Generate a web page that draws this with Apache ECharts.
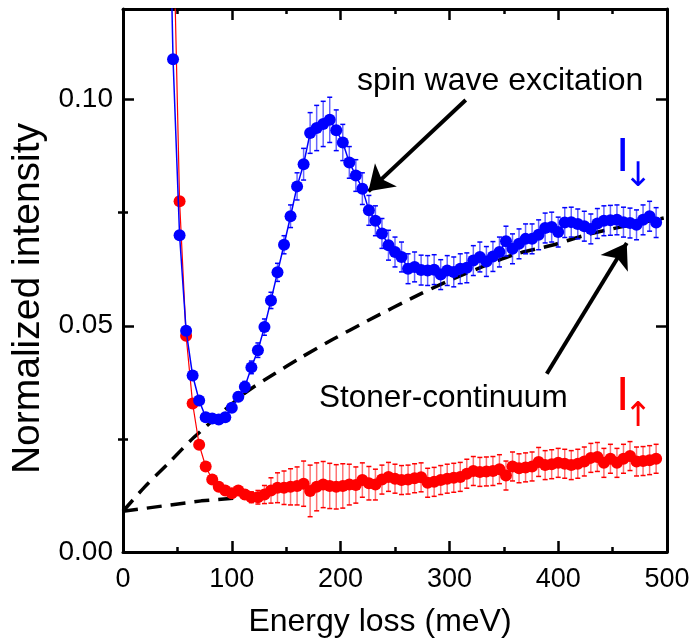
<!DOCTYPE html>
<html>
<head>
<meta charset="utf-8">
<title>Spin wave excitation</title>
<script src="https://cdn.jsdelivr.net/npm/echarts@6/dist/echarts.min.js"></script>
<style>
  html, body { margin: 0; padding: 0; background: #fff; }
  #chart { width: 697px; height: 644px; }
</style>
</head>
<body>
<div id="chart"></div>
<script>
  // energy loss (meV), same grid for both channels
  var energy = [40, 46, 52, 58, 64, 70, 76, 82, 88, 94,
    100, 106, 112, 118, 124, 130, 136, 142, 148, 154,
    160, 166, 172, 178, 184, 190, 196, 202, 208, 214,
    220, 226, 232, 238, 244, 250, 256, 262, 268, 274,
    280, 286, 292, 298, 304, 310, 316, 322, 328, 334,
    340, 346, 352, 358, 364, 370, 376, 382, 388, 394,
    400, 406, 412, 418, 424, 430, 436, 442, 448, 454,
    460, 466, 472, 478, 484, 490]

  // I down (blue)
  var iDown = [0.176, 0.1089, 0.0700, 0.0489, 0.0390, 0.0335, 0.0298, 0.0295, 0.0293, 0.0298,
    0.0319, 0.0343, 0.0365, 0.0408, 0.0446, 0.0497, 0.0556, 0.0618, 0.0679, 0.0742,
    0.0808, 0.0857, 0.0926, 0.0937, 0.0946, 0.0955, 0.0932, 0.0905, 0.0861, 0.0832,
    0.0803, 0.0755, 0.0732, 0.0704, 0.0678, 0.0663, 0.0652, 0.0626, 0.0630, 0.0623,
    0.0622, 0.0624, 0.0613, 0.0622, 0.0619, 0.0626, 0.0628, 0.0644, 0.0652, 0.0642,
    0.0653, 0.0663, 0.0687, 0.0670, 0.0681, 0.0692, 0.0692, 0.0701, 0.0716, 0.0718,
    0.0707, 0.0728, 0.0729, 0.0725, 0.0720, 0.0714, 0.0726, 0.0732, 0.0733, 0.0734,
    0.0729, 0.0727, 0.0723, 0.0734, 0.0742, 0.0728]
  var iDownErr = [0, 0.0005, 0.0005, 0.0005, 0.0005, 0.0005, 0.0005, 0.0005, 0.0005, 0.0005,
    0.0008, 0.001, 0.0012, 0.0014, 0.0016, 0.0018, 0.0018, 0.002, 0.002, 0.0025,
    0.003, 0.0035, 0.0045, 0.005, 0.005, 0.005, 0.0045, 0.004, 0.0035, 0.0035,
    0.0035, 0.0033, 0.0033, 0.0033, 0.0033, 0.0033, 0.0033, 0.0033, 0.0033, 0.0033,
    0.0033, 0.0033, 0.0033, 0.0033, 0.0033, 0.0033, 0.0033, 0.0033, 0.0033, 0.0033,
    0.0033, 0.0033, 0.0033, 0.0033, 0.0033, 0.0033, 0.0033, 0.0033, 0.0033, 0.0033,
    0.0033, 0.0033, 0.0033, 0.0033, 0.0033, 0.0033, 0.0033, 0.0033, 0.0033, 0.0033,
    0.0033, 0.0033, 0.0033, 0.0033, 0.0033, 0.0033]

  // I up (red)
  var iUp = [null, 0.142, 0.0775, 0.0478, 0.0328, 0.0237, 0.0189, 0.0160, 0.0144, 0.0136,
    0.0130, 0.0136, 0.0127, 0.0121, 0.0121, 0.0127, 0.0136, 0.0142, 0.0142, 0.0144,
    0.0146, 0.0151, 0.0135, 0.0144, 0.0149, 0.0146, 0.0144, 0.0146, 0.0149, 0.0148,
    0.0159, 0.0152, 0.0149, 0.0160, 0.0166, 0.0162, 0.0159, 0.0160, 0.0163, 0.0165,
    0.0153, 0.0155, 0.0159, 0.0162, 0.0164, 0.0166, 0.0173, 0.0179, 0.0177, 0.0178,
    0.0179, 0.0183, 0.0169, 0.0189, 0.0185, 0.0187, 0.0189, 0.0199, 0.0192, 0.0194,
    0.0197, 0.0195, 0.0192, 0.0195, 0.0200, 0.0208, 0.0210, 0.0197, 0.0206, 0.0197,
    0.0206, 0.0212, 0.0200, 0.0201, 0.0203, 0.0206]
  var iUpErr = [0, 0.0003, 0.0003, 0.0003, 0.0003, 0.0003, 0.0003, 0.0003, 0.0003, 0.0003,
    0.0006, 0.0008, 0.001, 0.0012, 0.0015, 0.002, 0.0028, 0.0033, 0.0037, 0.004,
    0.0042, 0.005, 0.0057, 0.0053, 0.0051, 0.005, 0.0049, 0.0049, 0.0045, 0.004,
    0.0038, 0.0037, 0.0034, 0.0032, 0.0032, 0.0032, 0.0032, 0.0032, 0.0032, 0.0032,
    0.0032, 0.0032, 0.0032, 0.0032, 0.0032, 0.0032, 0.0032, 0.0032, 0.0032, 0.0032,
    0.0032, 0.0032, 0.0032, 0.0032, 0.0032, 0.0032, 0.0032, 0.0032, 0.0032, 0.0032,
    0.0032, 0.0032, 0.0032, 0.0032, 0.0032, 0.0032, 0.0032, 0.0032, 0.0032, 0.0032,
    0.0032, 0.0032, 0.0032, 0.0032, 0.0032, 0.0032]

  // dashed guide lines
  var stonerE = [0, 20, 43, 65, 113, 140, 163, 193, 224, 273, 302, 331, 359, 396, 426, 457, 497]
  var stonerV = [0.009, 0.0144, 0.0199, 0.0253, 0.0353, 0.0395, 0.0429, 0.047, 0.051,
    0.057, 0.0602, 0.0631, 0.0657, 0.0679, 0.0701, 0.0718, 0.0738]
  var baseE = [0, 72, 135]
  var baseV = [0.009, 0.0113, 0.0126]

  var yTicks = [0, 0.05, 0.10]
  var yMinorTicks = [0.025, 0.075]

  var FONT = '"Liberation Sans", Arial, sans-serif'

  function pairs(xs, ys) {
    var out = []
    for (var i = 0; i < xs.length; i++) {
      if (ys[i] != null) out.push([xs[i], ys[i]])
    }
    return out
  }
  function triples(xs, ys, es) {
    var out = []
    for (var i = 0; i < xs.length; i++) {
      if (ys[i] != null) out.push([xs[i], ys[i], es[i]])
    }
    return out
  }

  function errorBars(barColor, capColor) {
    return function (params, api) {
      var x = api.value(0), y = api.value(1), e = api.value(2)
      var lo = api.coord([x, y - e])
      var hi = api.coord([x, y + e])
      var w = 2.5
      return {
        type: 'group',
        children: [
          { type: 'line', shape: { x1: lo[0], y1: lo[1], x2: hi[0], y2: hi[1] },
            style: { stroke: barColor, lineWidth: 1.5 } },
          { type: 'line', shape: { x1: hi[0] - w, y1: hi[1], x2: hi[0] + w, y2: hi[1] },
            style: { stroke: capColor, lineWidth: 1.5 } },
          { type: 'line', shape: { x1: lo[0] - w, y1: lo[1], x2: lo[0] + w, y2: lo[1] },
            style: { stroke: capColor, lineWidth: 1.5 } }
        ]
      }
    }
  }

  var axisLine = { show: true, onZero: false, lineStyle: { color: '#000', width: 3 } }
  var tickStyle = { color: '#000', width: 2.5 }

  function xAxisOf(pos) {
    return {
      type: 'value', min: 0, max: 500, interval: 100, position: pos,
      axisLine: axisLine,
      axisTick: { inside: true, length: 11, lineStyle: tickStyle },
      minorTick: { show: true, splitNumber: 2, length: 5, lineStyle: tickStyle },
      splitLine: { show: false },
      axisLabel: { show: pos === 'bottom', fontSize: 27, color: '#000', fontFamily: FONT, margin: 14 }
    }
  }
  function yAxisOf(pos, minor) {
    return {
      type: 'value', min: 0, max: 0.12, position: pos,
      axisLine: minor ? { show: false } : axisLine,
      axisTick: { inside: true, length: minor ? 5 : 11, lineStyle: tickStyle,
        customValues: minor ? yMinorTicks : yTicks },
      splitLine: { show: false },
      axisLabel: { show: pos === 'left' && !minor, customValues: yTicks,
        fontSize: 28, color: '#000', fontFamily: FONT, margin: 10,
        formatter: function (v) { return v.toFixed(2) } }
    }
  }

  var chart = echarts.init(document.getElementById('chart'))

  var xBottom = xAxisOf('bottom')
  xBottom.name = 'Energy loss (meV)'
  xBottom.nameLocation = 'middle'
  xBottom.nameGap = 54
  xBottom.nameTextStyle = { fontSize: 32, color: '#000', fontFamily: FONT, padding: [0, 30, 0, 0] }

  var yLeft = yAxisOf('left', false)
  yLeft.name = 'Normalized intensity'
  yLeft.nameLocation = 'middle'
  yLeft.nameGap = 73
  yLeft.nameTextStyle = { fontSize: 39, color: '#000', fontFamily: FONT, padding: [0, 36, 0, 0] }

  chart.setOption({
    animation: false,
    backgroundColor: '#fff',
    grid: { left: 123, right: 30, top: 9, bottom: 92 },
    xAxis: [xBottom, xAxisOf('top')],
    yAxis: [yLeft, yAxisOf('left', true), yAxisOf('right', false), yAxisOf('right', true)],
    series: [
      {
        name: 'stoner', type: 'line', data: pairs(stonerE, stonerV), smooth: 0.25,
        showSymbol: false, z: 1,
        lineStyle: { color: '#000', width: 3.5, type: [15, 9] },
        markLine: {
          silent: true, animation: false,
          symbol: ['none', 'arrow'], symbolSize: 24,
          label: { show: false },
          lineStyle: { color: '#000', width: 4, type: 'solid' },
          data: [
            [{ coord: [315, 0.0999] }, { coord: [225.6, 0.0797] }],
            [{ coord: [389.5, 0.0394] }, { coord: [463, 0.0683] }]
          ]
        }
      },
      {
        name: 'base', type: 'line', data: pairs(baseE, baseV),
        showSymbol: false, z: 1,
        lineStyle: { color: '#000', width: 3.5, type: [15, 9] }
      },
      {
        name: 'upErr', type: 'custom', clip: true, z: 2,
        renderItem: errorBars('rgba(255,0,0,0.55)', '#ff0000'),
        encode: { x: 0, y: 1 },
        data: triples(energy, iUp, iUpErr)
      },
      {
        name: 'I up', type: 'line', data: pairs(energy, iUp), z: 3,
        symbol: 'circle', symbolSize: 12, clip: true,
        itemStyle: { color: '#ff0000' },
        lineStyle: { color: '#ff0000', width: 1.2 }
      },
      {
        name: 'downErr', type: 'custom', clip: true, z: 4,
        renderItem: errorBars('rgba(0,0,255,0.6)', '#0000ff'),
        encode: { x: 0, y: 1 },
        data: triples(energy, iDown, iDownErr)
      },
      {
        name: 'I down', type: 'line', data: pairs(energy, iDown), z: 5,
        symbol: 'circle', symbolSize: 12, clip: true,
        itemStyle: { color: '#0000ff' },
        lineStyle: { color: '#0000ff', width: 1.5 }
      }
    ],
    graphic: [
      { type: 'text', x: 357, y: 81, z: 10,
        style: { text: 'spin wave excitation', fontSize: 32, fontFamily: FONT, fill: '#000', verticalAlign: 'middle' } },
      { type: 'text', x: 319, y: 398, z: 10,
        style: { text: 'Stoner-continuum', fontSize: 31.5, fontFamily: FONT, fill: '#000', verticalAlign: 'middle' } },
      { type: 'text', x: 616, y: 158, z: 10,
        style: { text: 'I', fontSize: 48, fontFamily: FONT, fill: '#0000ff', verticalAlign: 'middle' } },
      { type: 'text', x: 638, y: 177, z: 10,
        style: { text: '\u2193', fontSize: 34, fontFamily: '"DejaVu Sans"', fill: '#0000ff', align: 'center', verticalAlign: 'middle' } },
      { type: 'text', x: 616, y: 397, z: 10,
        style: { text: 'I', fontSize: 48, fontFamily: FONT, fill: '#ff0000', verticalAlign: 'middle' } },
      { type: 'text', x: 638, y: 417, z: 10,
        style: { text: '\u2191', fontSize: 34, fontFamily: '"DejaVu Sans"', fill: '#ff0000', align: 'center', verticalAlign: 'middle' } }
    ]
  })
</script>
</body>
</html>
